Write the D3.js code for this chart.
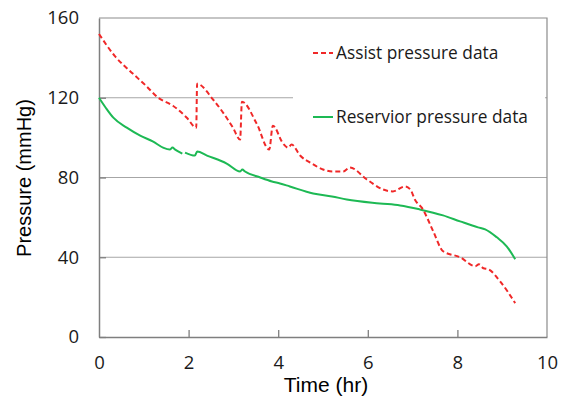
<!DOCTYPE html>
<html>
<head>
<meta charset="utf-8">
<script src="https://cdn.jsdelivr.net/npm/d3@7"></script>
<style>
  html, body { margin: 0; padding: 0; background: #fff; }
  svg { display: block; }
</style>
</head>
<body>
<svg id="chart" width="568" height="397"></svg>
<script>
// Time axis ticks (hr) and pressure axis ticks (mmHg)
const xTicks = [0, 2, 4, 6, 8, 10];
const yTicks = [0, 40, 80, 120, 160];

// Assist pressure: [time (hr), pressure (mmHg)]
const assistPressure = [
  [0.00, 152], [0.35, 141], [0.76, 132], [1.05, 126], [1.32, 120], [1.65, 116],
  [1.96, 110], [2.17, 105], [2.19, 127], [2.55, 119], [2.99, 105], [3.15, 99],
  [3.19, 118], [3.52, 107], [3.80, 94], [3.88, 106], [4.11, 97], [4.22, 95],
  [4.30, 96.5], [4.49, 91], [4.75, 87], [5.00, 84], [5.22, 83], [5.45, 83],
  [5.60, 85], [5.98, 79], [6.34, 74], [6.56, 73], [6.83, 75.5], [6.95, 74],
  [7.05, 69], [7.23, 64], [7.46, 53], [7.68, 43], [8.06, 40], [8.40, 35.5],
  [8.48, 36.5], [8.58, 34.5], [8.69, 34], [8.95, 28], [9.29, 17]
];

// Reservoir pressure: [time (hr), pressure (mmHg)]; null marks a break in the record
const reservoirPressure = [
  [0.00, 120], [0.15, 115], [0.32, 110], [0.62, 105], [0.92, 101], [1.21, 98],
  [1.43, 95], [1.58, 94], [1.64, 95], [1.70, 94], [1.86, 92], [1.88, null],
  [1.92, 92.5], [2.14, 91], [2.19, 93], [2.41, 91], [2.85, 87], [3.15, 83],
  [3.20, 84], [3.26, 83], [3.60, 80], [3.86, 78], [4.04, 77], [4.26, 75.5],
  [4.78, 72], [5.20, 70.5], [5.53, 69], [6.27, 67], [6.72, 66], [7.16, 64],
  [7.68, 61], [8.06, 58], [8.46, 55], [8.62, 54], [8.88, 50], [9.10, 45.5],
  [9.29, 39]
];

const legendLabels = ["Assist pressure data", "Reservior pressure data"];

const svg = d3.select("#chart");
const margin = { left: 99, right: 21, top: 18, bottom: 60 };
const W = 568, H = 397;

const x = d3.scaleLinear().domain([0, 10]).range([margin.left, W - margin.right]);
const y = d3.scaleLinear().domain([0, 160]).range([H - margin.bottom, margin.top]);

// horizontal gridlines
svg.append("g")
  .selectAll("line")
  .data(yTicks.filter(d => d > 0 && d < 160))
  .join("line")
  .attr("x1", x(0)).attr("x2", x(10))
  .attr("y1", d => y(d)).attr("y2", d => y(d))
  .attr("stroke", "#a6a6a6").attr("stroke-width", 1.2);

// top and right frame
svg.append("path")
  .attr("d", `M${x(0)},${y(160)}H${x(10)}V${y(0)}`)
  .attr("fill", "none").attr("stroke", "#8c8c8c").attr("stroke-width", 1.2);

// legend background covers the grid
svg.append("rect")
  .attr("x", 293).attr("y", 26).attr("width", 252).attr("height", 126)
  .attr("fill", "#fff");

// axes
const xAxis = d3.axisBottom(x).tickValues(xTicks).tickSizeInner(-7).tickSizeOuter(0).tickPadding(19);
const yAxis = d3.axisLeft(y).tickValues(yTicks).tickSizeInner(-7).tickSizeOuter(0).tickPadding(20);

const gx = svg.append("g").attr("transform", `translate(0,${y(0)})`).call(xAxis);
const gy = svg.append("g").attr("transform", `translate(${x(0)},0)`).call(yAxis);

[gx, gy].forEach(g => {
  g.select(".domain").attr("stroke", "#7f7f7f").attr("stroke-width", 1.5);
  g.selectAll(".tick line").attr("stroke", "#7f7f7f").attr("stroke-width", 1.3);
  g.selectAll(".tick text")
    .attr("fill", "#1a1a1a")
    .style("font-family", "'Open Sans', sans-serif")
    .style("font-size", "18.5px");
});
gy.selectAll(".tick line").filter(d => d === 160).remove();
gx.selectAll(".tick line").filter(d => d === 0 || d === 10).remove();

// axis titles
svg.append("text")
  .attr("x", 326).attr("y", 392)
  .attr("text-anchor", "middle")
  .style("font-family", "'Liberation Sans', Arial, sans-serif")
  .style("font-size", "21px")
  .attr("fill", "#000")
  .text("Time (hr)");

svg.append("text")
  .attr("transform", `translate(31,${178}) rotate(-90)`)
  .attr("text-anchor", "middle")
  .style("font-family", "'Liberation Sans', Arial, sans-serif")
  .style("font-size", "20px")
  .attr("fill", "#000")
  .text("Pressure (mmHg)");

// series
const line = d3.line()
  .defined(d => d[1] !== null)
  .curve(d3.curveMonotoneX)
  .x(d => x(d[0]))
  .y(d => y(d[1]));

svg.append("path")
  .datum(reservoirPressure)
  .attr("d", line)
  .attr("fill", "none")
  .attr("stroke", "#1db954")
  .attr("stroke-width", 2);

svg.append("path")
  .datum(assistPressure)
  .attr("d", line)
  .attr("fill", "none")
  .attr("stroke", "#f02828")
  .attr("stroke-width", 2)
  .attr("stroke-dasharray", "5,3");

// legend
const legend = svg.append("g");
const legendItems = [
  { label: legendLabels[0], color: "#f02828", dash: "5,3", yPos: 53 },
  { label: legendLabels[1], color: "#1db954", dash: null, yPos: 117 }
];
legendItems.forEach(it => {
  legend.append("line")
    .attr("x1", 313).attr("x2", 333)
    .attr("y1", it.yPos).attr("y2", it.yPos)
    .attr("stroke", it.color).attr("stroke-width", 2)
    .attr("stroke-dasharray", it.dash);
  legend.append("text")
    .attr("x", 336).attr("y", it.yPos)
    .attr("dy", "0.35em")
    .style("font-family", "'Open Sans', sans-serif")
    .style("font-size", "17.3px")
    .attr("fill", "#1a1a1a")
    .text(it.label);
});
</script>
</body>
</html>
